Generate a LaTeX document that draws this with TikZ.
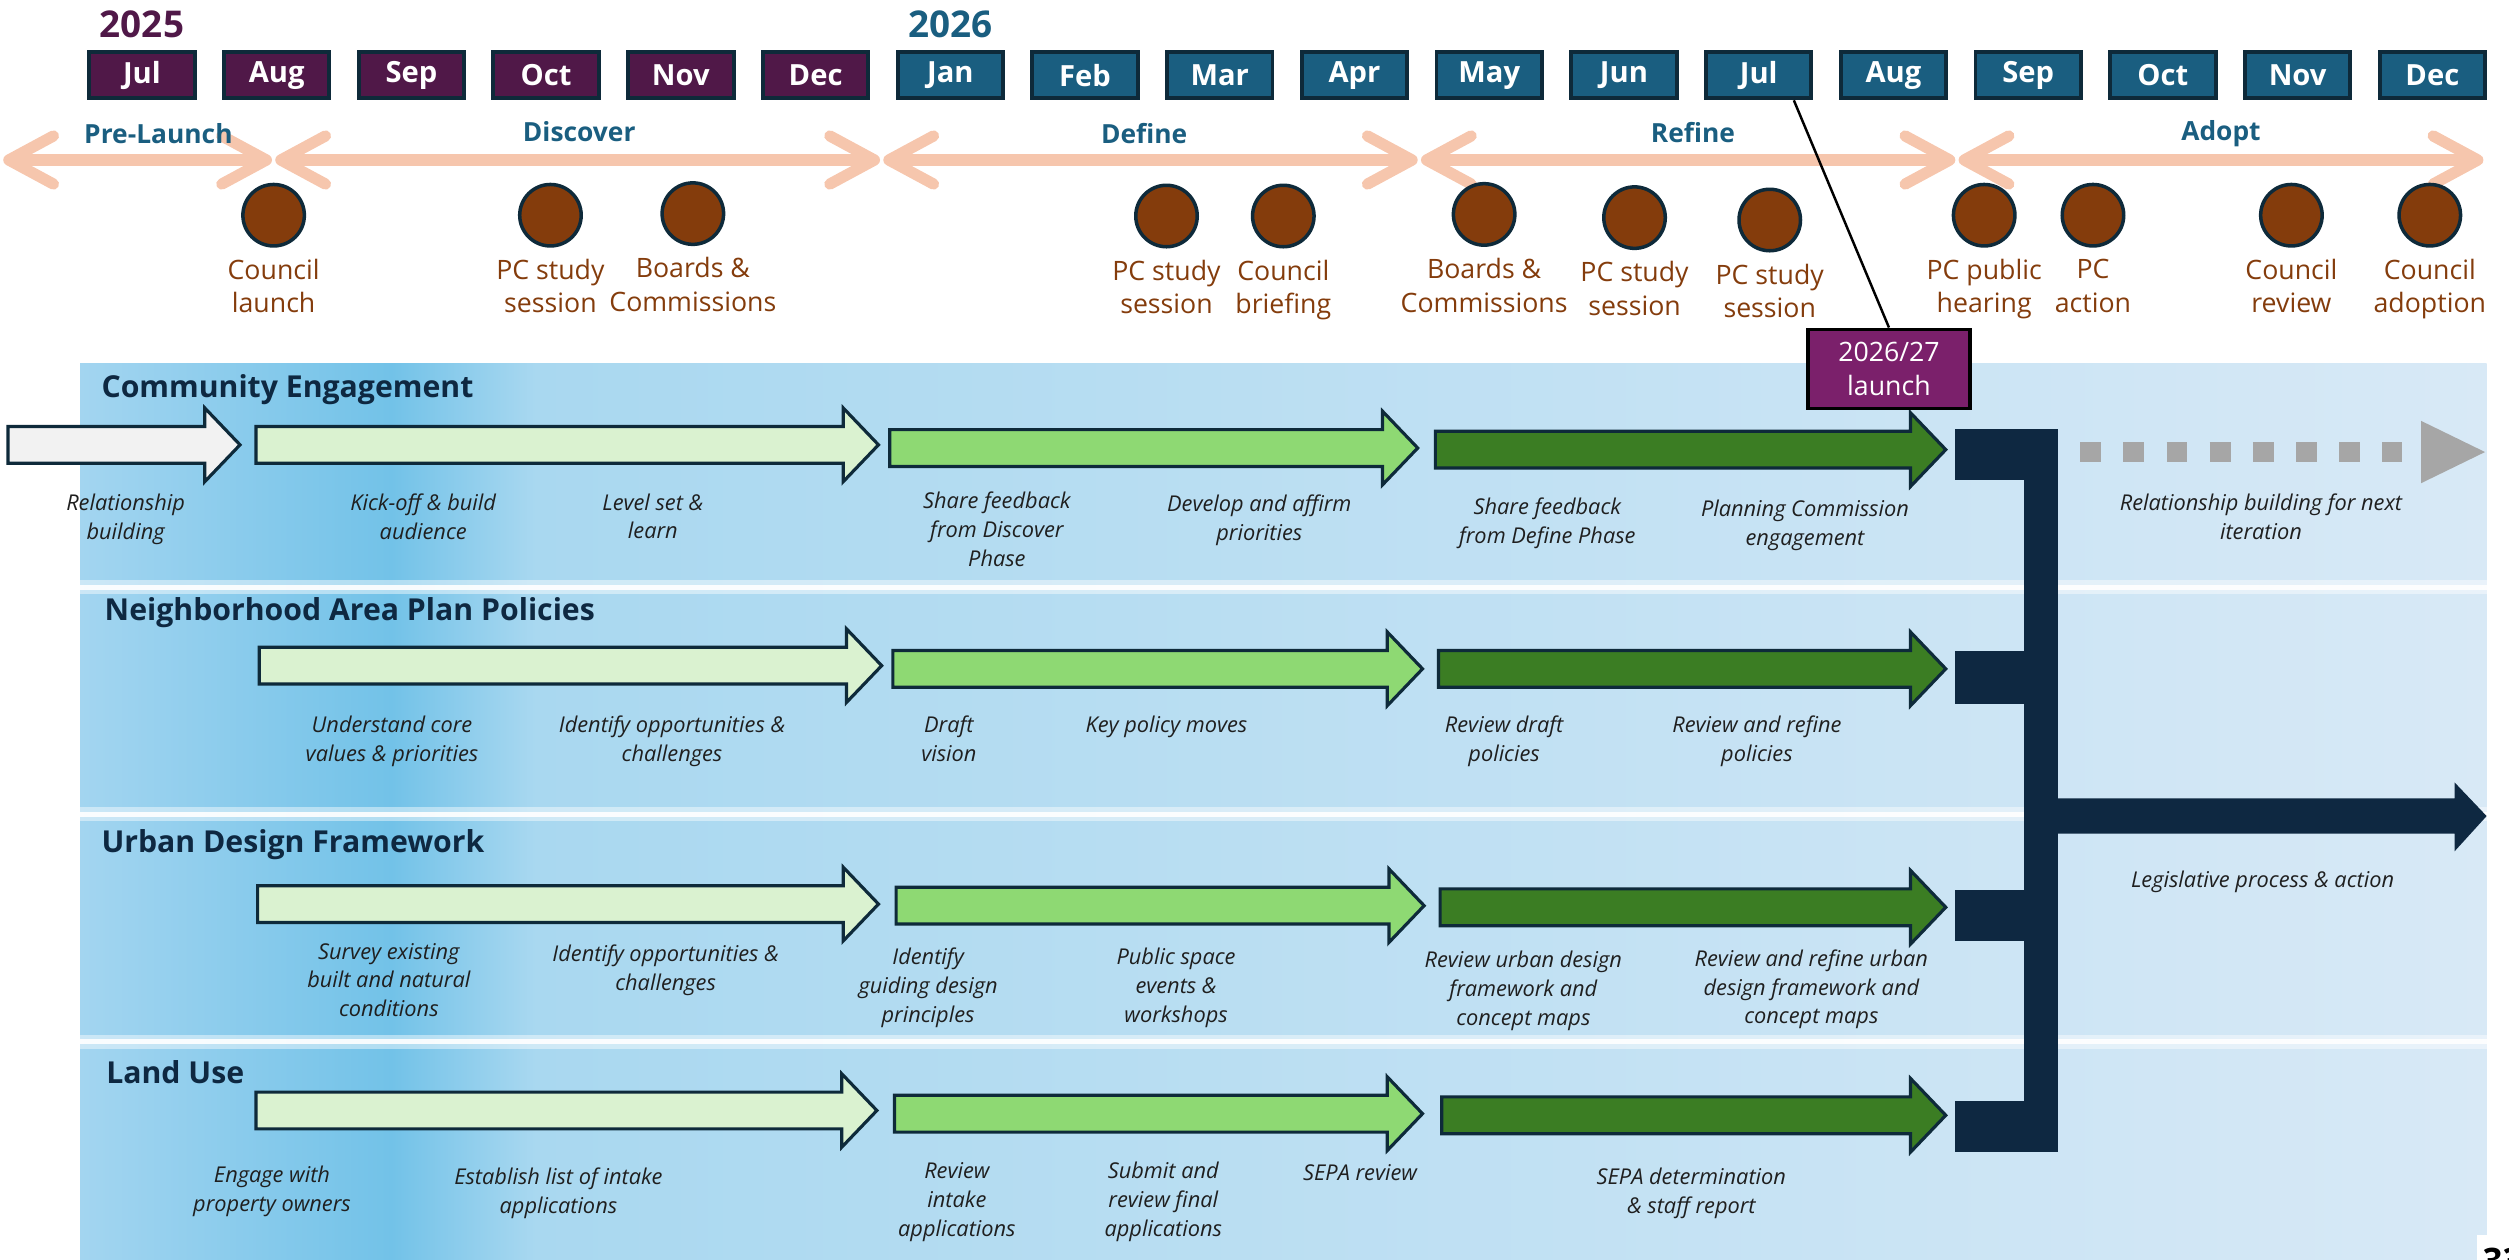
\documentclass[tikz,border=0pt]{standalone}
\usepackage{fontspec}
\setmainfont{Open Sans}
\usepackage{xcolor}
\usepackage{tikz}
\usetikzlibrary{positioning}
\usetikzlibrary{arrows.meta}

\definecolor{plum}{HTML}{501848}
\definecolor{yearteal}{HTML}{1A5E80}
\definecolor{navy}{HTML}{0E2841}
\definecolor{edgeblk}{HTML}{0E2A3A}
\definecolor{peach}{HTML}{F6C6AD}
\definecolor{rust}{HTML}{843C0C}
\definecolor{paleg}{HTML}{DAF2D0}
\definecolor{midg}{HTML}{8ED973}
\definecolor{darkg}{HTML}{3B7D23}
\definecolor{offwhite}{HTML}{F2F2F2}
\definecolor{launchpurple}{HTML}{7B206B}
\definecolor{dashgrey}{HTML}{A6A6A6}
\definecolor{skyA}{HTML}{A3D5F0}
\definecolor{skyB}{HTML}{72C2E8}
\definecolor{skyC}{HTML}{A9D8F0}
\definecolor{skyD}{HTML}{D8E9F6}

\tikzset{stage/.style = {draw=edgeblk, line width=0.9pt, line join=miter}}
\tikzset{steplbl/.style = {font=\fontsize{6.2}{8.2}\selectfont\itshape, text=black!88, align=center, inner sep=0, anchor=north}}

% block arrow: fill, start x, tip x, centre y
\newcommand{\stagearrow}[4]{%
  \draw[stage, fill=#1] (#2,#4-11.5) -- (#3-22,#4-11.5) -- (#3-22,#4-23) -- (#3,#4)
    -- (#3-22,#4+23) -- (#3-22,#4+11.5) -- (#2,#4+11.5) -- cycle;}

\begin{document}
\begin{tikzpicture}[x=0.016cm, y=-0.016cm,
    month/.style={draw=edgeblk, line width=1.1pt, minimum width=30pt, minimum height=13.2pt, inner sep=0, text=white, font=\fontsize{8.3}{9}\selectfont\bfseries},
    year/.style={font=\fontsize{10.5}{11}\selectfont\bfseries, inner sep=0},
    phase/.style={font=\fontsize{7.5}{8}\selectfont\bfseries, text=yearteal, inner sep=0, anchor=base},
    phasearrow/.style={draw=peach, line width=3.2pt, >={Straight Barb[length=12.7pt,width=13.7pt,round]}, <->},
    ms/.style={circle, draw=edgeblk, line width=1pt, fill=rust, minimum size=17.5pt, inner sep=0},
    mslbl/.style={text=rust, font=\fontsize{7.6}{9.6}\selectfont, align=center, inner sep=0},
    lane/.style={font=\fontsize{8.6}{10}\selectfont\bfseries, text=navy, anchor=base west, inner sep=0},
    launchbox/.style={draw=black, line width=1pt, fill=launchpurple, text=white, minimum width=46pt, minimum height=22.5pt, align=center, inner sep=0, font=\fontsize{7.6}{9.6}\selectfont}]
\useasboundingbox (0,0) rectangle (1568,787);

% lanes background
\shade[left color=skyA, right color=skyB] (50,227) rectangle (245,787);
\shade[left color=skyB, right color=skyC] (244.5,227) rectangle (335,787);
\shade[left color=skyC, right color=skyD] (334.5,227) rectangle (1554,787);
\foreach \y in {367,509,651} {
  \draw[white, opacity=.45, line width=4pt] (50,\y) -- (1554,\y);
  \draw[white, opacity=.9, line width=1.3pt] (50,\y) -- (1554,\y);
}

% lane titles
\node[lane] (lt1) at (63,248.7) {Community Engagement};
\node[lane] (lt2) at (65,388) {Neighborhood Area Plan Policies};
\node[lane] (lt3) at (63,533) {Urban Design Framework};
\node[lane] (lt4) at (66,677) {Land Use};

% stage arrows
\stagearrow{offwhite}{5}{150}{278}
\stagearrow{paleg}{160}{549}{278}
\stagearrow{midg}{556}{886}{280}
\stagearrow{darkg}{897}{1216}{281}
\stagearrow{paleg}{162}{551}{416}
\stagearrow{midg}{558}{889}{418}
\stagearrow{darkg}{899}{1216}{418}
\stagearrow{paleg}{161}{549}{565}
\stagearrow{midg}{560}{890}{566}
\stagearrow{darkg}{900}{1216}{567}
\stagearrow{paleg}{160}{548}{694}
\stagearrow{midg}{559}{889}{696}
\stagearrow{darkg}{901}{1216}{697}

% bracket and legislative arrow
\fill[navy] (1222,268) rectangle (1286,300);
\fill[navy] (1265,268) rectangle (1286,720);
\fill[navy] (1222,407) rectangle (1266,440);
\fill[navy] (1222,556) rectangle (1266,588);
\fill[navy] (1222,688) rectangle (1286,720);
\fill[navy] (1286,499) -- (1534,499) -- (1534,489) -- (1554,510) -- (1534,532) -- (1534,521) -- (1286,521) -- cycle;

% next iteration
\coordinate (nx0) at (1300,282.5);
\coordinate (nx1) at (1501,282.5);
\draw[dashgrey, line width=5.9pt, dash pattern=on 5.92pt off 6.37pt] (nx0) -- (nx1);
\fill[dashgrey] (1513,263) -- (1553,282.5) -- (1513,302) -- cycle;

% step labels
\node[steplbl] (ce1) at (78.5,308.5) {Relationship\\building};
\node[steplbl] (ce2) at (264.5,308) {Kick-off \& build\\audience};
\node[steplbl] (ce3) at (408,308) {Level set \&\\learn};
\node[steplbl] (ce4) at (623,307) {Share feedback\\from Discover\\Phase};
\node[steplbl] (ce5) at (787,309) {Develop and affirm\\priorities};
\node[steplbl] (ce6) at (967,310.5) {Share feedback\\from Define Phase};
\node[steplbl] (ce7) at (1128,312) {Planning Commission\\engagement};
\node[steplbl] (ce8) at (1413,308) {Relationship building for next\\iteration};

\node[steplbl] (np1) at (245,447) {Understand core\\values \& priorities};
\node[steplbl] (np2) at (420,447) {Identify opportunities \&\\challenges};
\node[steplbl] (np3) at (593,447) {Draft\\vision};
\node[steplbl] (np4) at (729,447) {Key policy moves};
\node[steplbl] (np5) at (940,447) {Review draft\\policies};
\node[steplbl] (np6) at (1098,447) {Review and refine\\policies};

\node[steplbl] (ud1) at (243,589) {Survey existing\\built and natural\\conditions};
\node[steplbl] (ud2) at (416,590) {Identify opportunities \&\\challenges};
\node[steplbl] (ud3) at (580,592) {Identify\\guiding design\\principles};
\node[steplbl] (ud4) at (735,592) {Public space\\events \&\\workshops};
\node[steplbl] (ud5) at (952,594) {Review urban design\\framework and\\concept maps};
\node[steplbl] (ud6) at (1132,593) {Review and refine urban\\design framework and\\concept maps};
\node[steplbl] (ud7) at (1414,544) {Legislative process \& action};

\node[steplbl] (lu1) at (170,728.5) {Engage with\\property owners};
\node[steplbl] (lu2) at (349,729.5) {Establish list of intake\\applications};
\node[steplbl] (lu3) at (598,726) {Review\\intake\\applications};
\node[steplbl] (lu4) at (727,726) {Submit and\\review final\\applications};
\node[steplbl] (lu5) at (850,727) {SEPA review};
\node[steplbl] (lu6) at (1057,729.5) {SEPA determination\\\& staff report};

% months
\foreach \m [count=\i from 0] in {Jul,Aug,Sep,Oct,Nov,Dec}
  \node[month, fill=plum] (m\i) at (88.7+84.2*\i,47) {\m};
\foreach \m [count=\i from 6] in {Jan,Feb,Mar,Apr,May,Jun,Jul,Aug,Sep,Oct,Nov,Dec}
  \node[month, fill=yearteal] (m\i) at (88.7+84.2*\i,47) {\m};
\node[year, text=plum, above=3.3pt of m0] (y25) {2025};
\node[year, text=yearteal, above=3.3pt of m6] (y26) {2026};

% phases
\coordinate (p0) at (2,100);
\coordinate (p1) at (170,100);
\coordinate (p2) at (172,100);
\coordinate (p3) at (550,100);
\coordinate (p4) at (552,100);
\coordinate (p5) at (886,100);
\coordinate (p6) at (888,100);
\coordinate (p7) at (1222,100);
\coordinate (p8) at (1224,100);
\coordinate (p9) at (1552,100);
\draw[phasearrow] (p0) -- (p1);
\draw[phasearrow] (p2) -- (p3);
\draw[phasearrow] (p4) -- (p5);
\draw[phasearrow] (p6) -- (p7);
\draw[phasearrow] (p8) -- (p9);
\node[phase] (ph1) at (99,89.4) {Pre-Launch};
\node[phase] (ph2) at (362,88.4) {Discover};
\node[phase] (ph3) at (715,89.4) {Define};
\node[phase] (ph4) at (1058,89) {Refine};
\node[phase] (ph5) at (1388,88) {Adopt};

% milestones
\node[ms] (ms1) at (171,134.5) {};
\node[ms] (ms2) at (344,134.5) {};
\node[ms] (ms3) at (433,133.5) {};
\node[ms] (ms4) at (729,135) {};
\node[ms] (ms5) at (802,135) {};
\node[ms] (ms6) at (927.5,134) {};
\node[ms] (ms7) at (1021.5,136) {};
\node[ms] (ms8) at (1106,137.5) {};
\node[ms] (ms9) at (1240,134.5) {};
\node[ms] (ms10) at (1308,134.5) {};
\node[ms] (ms11) at (1432,134.5) {};
\node[ms] (ms12) at (1518.5,134.5) {};
\node[mslbl, below=3pt of ms1] (ml1) {Council\\launch};
\node[mslbl, below=3pt of ms2] (ml2) {PC study\\session};
\node[mslbl, below=3pt of ms3] (ml3) {Boards \&\\Commissions};
\node[mslbl, below=3pt of ms4] (ml4) {PC study\\session};
\node[mslbl, below=3pt of ms5] (ml5) {Council\\briefing};
\node[mslbl, below=3pt of ms6] (ml6) {Boards \&\\Commissions};
\node[mslbl, below=3pt of ms7] (ml7) {PC study\\session};
\node[mslbl, below=3pt of ms8] (ml8) {PC study\\session};
\node[mslbl, below=3pt of ms9] (ml9) {PC public\\hearing};
\node[mslbl, below=3pt of ms10] (ml10) {PC\\action};
\node[mslbl, below=3pt of ms11] (ml11) {Council\\review};
\node[mslbl, below=3pt of ms12] (ml12) {Council\\adoption};

% launch callout
\node[launchbox] (launch) at (1180.5,230.5) {2026/27\\launch};
\draw[line width=0.7pt] ([xshift=10pt]m12.south) -- (launch.north);

% page number
\fill[white] (1548,772) rectangle (1575,795);
\node[anchor=north west, inner sep=0, font=\fontsize{10}{10}\selectfont\bfseries] (pg) at (1551,779.5) {33};
\end{tikzpicture}
\end{document}
